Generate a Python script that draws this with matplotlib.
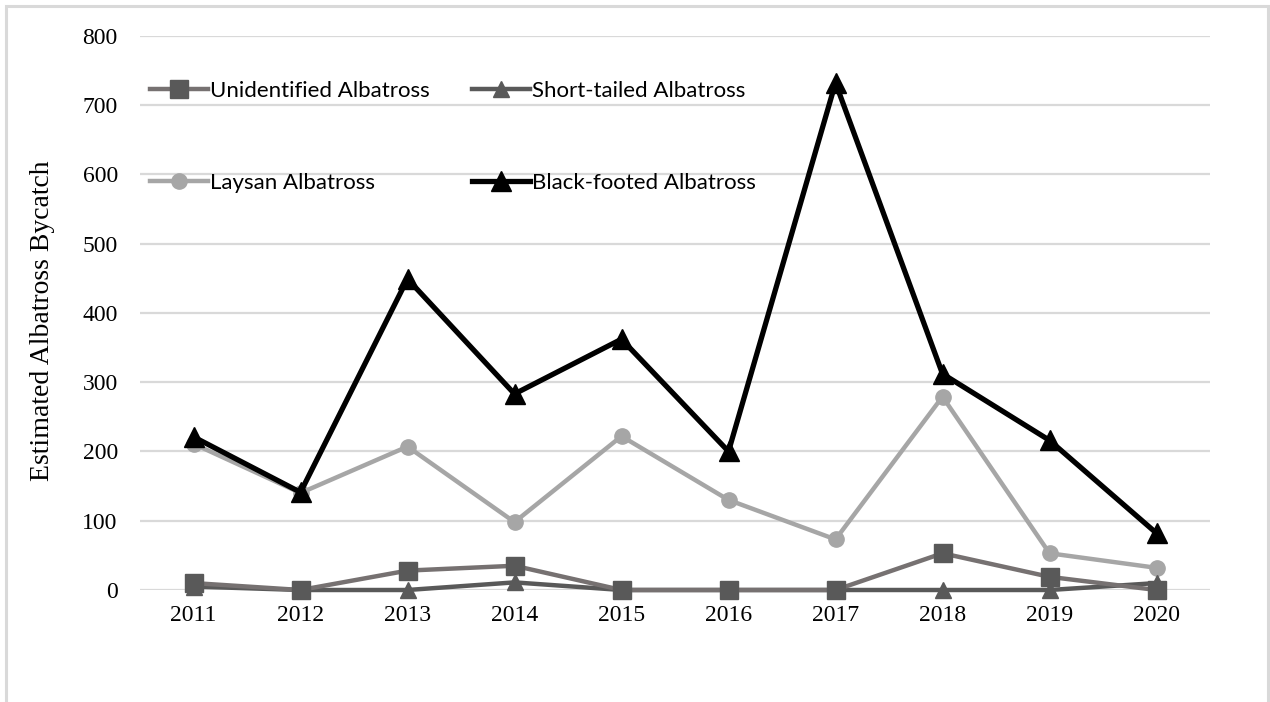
import matplotlib.pyplot as plt
from matplotlib.patches import Rectangle

years = ["2011", "2012", "2013", "2014", "2015", "2016", "2017", "2018", "2019", "2020"]
unidentified = [10, 0, 28, 35, 0, 0, 0, 53, 19, 0]
short_tailed = [5, 0, 0, 11, 0, 0, 0, 0, 0, 10]
laysan = [211, 140, 207, 98, 222, 130, 73, 279, 53, 32]
black_footed = [221, 141, 449, 283, 362, 200, 732, 312, 216, 82]

W, H = 1270, 702
fig = plt.figure(figsize=(W / 100, H / 100), dpi=100)
ax = fig.add_axes([140 / W, 1 - 590 / H, 1070 / W, 554.3 / H])

# outer frame (bottom edge runs off the picture)
fig.patches.append(Rectangle((6 / W, -0.1), 1262 / W, 1.1 - 6 / H, transform=fig.transFigure,
                             fill=False, edgecolor="#d9d9d9", linewidth=2.2))

x = list(range(len(years)))
l_lay, = ax.plot(x, laysan, color="#a6a6a6", lw=3.2, marker="o", ms=11,
                 mfc="#a6a6a6", mec="#a6a6a6", label="Laysan Albatross", zorder=3)
l_st, = ax.plot(x, short_tailed, color="#595959", lw=3.2, marker="^", ms=12,
                mfc="#595959", mec="#595959", label="Short-tailed Albatross", zorder=4)
l_un, = ax.plot(x, unidentified, color="#767171", lw=3.2, marker="s", ms=13,
                mfc="#595959", mec="#595959", label="Unidentified Albatross", zorder=5)
l_bf, = ax.plot(x, black_footed, color="black", lw=3.8, marker="^", ms=14,
                mfc="black", mec="black", label="Black-footed Albatross", zorder=6)
for ln in (l_lay, l_st, l_un, l_bf):
    ln.set_clip_on(False)

ax.set_xlim(-0.5, len(years) - 0.5)
ax.set_ylim(0, 800)
ax.set_yticks(range(0, 801, 100))
ax.set_xticks(x)
ax.set_xticklabels(years)
ax.grid(axis="y", color="#d9d9d9", lw=1.6)
ax.set_axisbelow(True)
for s in ax.spines.values():
    s.set_visible(False)
ax.tick_params(length=0, labelsize=17, labelfontfamily="Liberation Serif")
ax.tick_params(axis="y", pad=16)
ax.tick_params(axis="x", pad=11)

fig.text(43 / W, 1 - 321 / H, "Estimated Albatross Bycatch", rotation=90,
         ha="center", va="center", fontsize=20, family="Liberation Serif")

ax.legend([l_un, l_lay, l_st, l_bf],
          [h.get_label() for h in [l_un, l_lay, l_st, l_bf]],
          ncol=2, loc="upper left", bbox_to_anchor=(-0.005, 0.947), frameon=False,
          prop={"family": "Lato", "size": 16}, handlelength=2.6, handletextpad=0.1,
          labelspacing=3.25, columnspacing=1.9, borderaxespad=0.3)

fig.savefig("out.png", dpi=100)
